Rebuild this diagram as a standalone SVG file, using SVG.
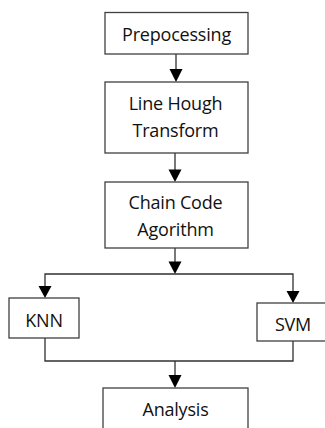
<svg xmlns="http://www.w3.org/2000/svg" width="325" height="428" viewBox="0 0 325 428">
  <style>
    .box { fill: #ffffff; stroke: #404040; stroke-width: 1.3; }
    .wire { fill: none; stroke: #303030; stroke-width: 1.3; }
    .head { fill: #000000; }
    .label { font-family: "Open Sans", "Liberation Sans", Arial, sans-serif; font-size: 18px; fill: #111111; text-anchor: middle; letter-spacing: -0.2px; }
  </style>
  <rect width="325" height="428" fill="#ffffff"/>

  <g id="connectors">
    <line class="wire" x1="176" y1="54" x2="176" y2="70"/>
    <polygon class="head" points="169.5,69 182.5,69 176,82"/>
    <line class="wire" x1="175" y1="153" x2="175" y2="171"/>
    <polygon class="head" points="168.5,169.5 181.5,169.5 175,182"/>
    <line class="wire" x1="175" y1="248" x2="175" y2="263"/>
    <polygon class="head" points="168.5,261.5 181.5,261.5 175,274"/>
    <polyline class="wire" points="45,288 45,274 293,274 293,292"/>
    <polygon class="head" points="38.5,286 51.5,286 45,298"/>
    <polygon class="head" points="286.5,291 299.5,291 293,303"/>
    <polyline class="wire" points="45,338 45,361 293,361 293,341"/>
    <line class="wire" x1="175" y1="361" x2="175" y2="376"/>
    <polygon class="head" points="168.5,375 181.5,375 175,388"/>
  </g>

  <g id="node-prepocessing">
    <rect class="box" x="105" y="12.5" width="143" height="41.5"/>
    <text class="label" x="176.5" y="41">Prepocessing</text>
  </g>
  <g id="node-hough">
    <rect class="box" x="105" y="82" width="143" height="71"/>
    <text class="label" x="175.5" y="110">Line Hough</text>
    <text class="label" x="175.5" y="137">Transform</text>
  </g>
  <g id="node-chaincode">
    <rect class="box" x="105" y="182" width="143" height="66"/>
    <text class="label" x="175.5" y="209">Chain Code</text>
    <text class="label" x="175.5" y="236">Agorithm</text>
  </g>
  <g id="node-knn">
    <rect class="box" x="9" y="298" width="70" height="40"/>
    <text class="label" x="44" y="327">KNN</text>
  </g>
  <g id="node-svm">
    <rect class="box" x="257" y="303" width="72" height="38"/>
    <text class="label" x="293" y="331">SVM</text>
  </g>
  <g id="node-analysis">
    <rect class="box" x="103" y="388" width="145" height="45"/>
    <text class="label" x="175.5" y="416">Analysis</text>
  </g>
</svg>
